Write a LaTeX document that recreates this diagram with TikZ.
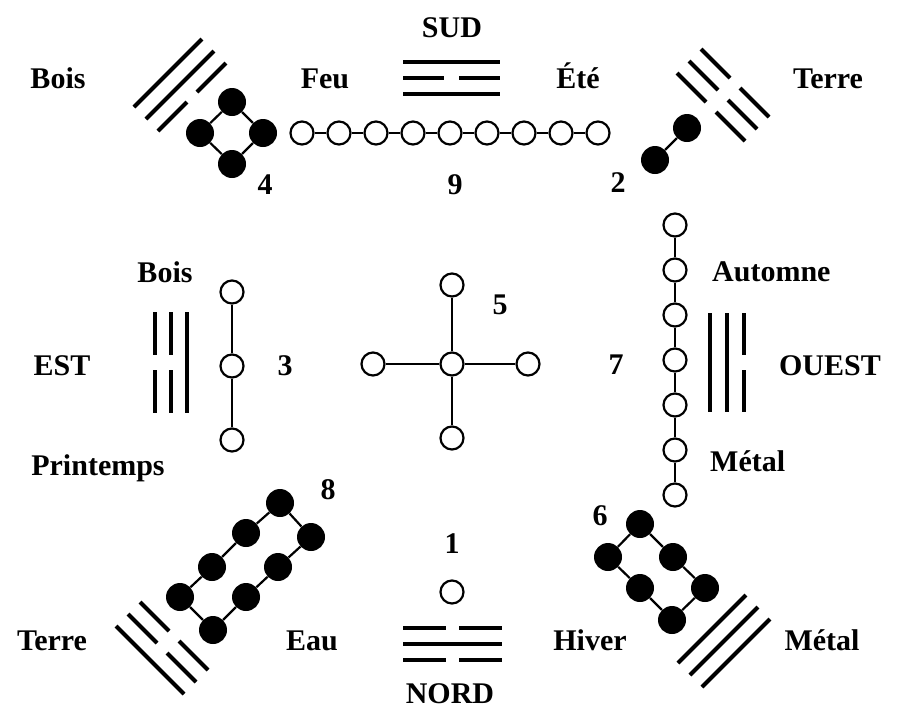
\documentclass[tikz,border=0pt]{standalone}
\usepackage{fontspec}
\setmainfont{Liberation Serif}
\usetikzlibrary{positioning}

\begin{document}
\begin{tikzpicture}[
    x=1pt, y=-1pt,
    lbl/.style={font=\fontsize{30}{34}\selectfont\bfseries, inner sep=0pt, anchor=base},
    wc/.style={draw, circle, fill=white, line width=2.2pt, minimum size=23pt, inner sep=0pt},
    bc/.style={circle, fill=black, minimum size=28pt, inner sep=0pt},
    lnk/.style={line width=2.2pt},
    yao/.style={line width=4pt}
  ]
  \useasboundingbox (0,0) rectangle (897,713);

  % labels
  \node[lbl] (sud) at (452,37) {SUD};
  \node[lbl] (bois1) at (58,88) {Bois};
  \node[lbl] (feu) at (325,88) {Feu};
  \node[lbl] (ete) at (578,88) {Été};
  \node[lbl] (terre1) at (828,88) {Terre};
  \node[lbl] (n4) at (265,194) {4};
  \node[lbl] (n9) at (455,194) {9};
  \node[lbl] (n2) at (618,192) {2};
  \node[lbl] (bois2) at (165,282) {Bois};
  \node[lbl] (est) at (62,375) {EST};
  \node[lbl] (n3) at (285,375) {3};
  \node[lbl] (print) at (98,475) {Printemps};
  \node[lbl] (n5) at (500,314) {5};
  \node[lbl] (n7) at (616,374) {7};
  \node[lbl, anchor=base west] (aut) at (712,281) {Automne};
  \node[lbl] (ouest) at (830,375) {OUEST};
  \node[lbl, anchor=base west] (met1) at (710,471) {Métal};
  \node[lbl] (n8) at (328,499) {8};
  \node[lbl] (n6) at (600,525) {6};
  \node[lbl] (n1) at (452,553) {1};
  \node[lbl] (terre2) at (52,650) {Terre};
  \node[lbl] (eau) at (312,650) {Eau};
  \node[lbl] (hiver) at (590,650) {Hiver};
  \node[lbl] (met2) at (822,650) {Métal};
  \node[lbl] (nord) at (450,703) {NORD};

  % trigrams
  \draw[yao] (403,62) -- (500,62);
  \draw[yao] (403,78) -- (444,78) (459,78) -- (500,78);
  \draw[yao] (403,94) -- (500,94);

  \draw[yao] (403,628) -- (446,628) (459,628) -- (502,628);
  \draw[yao] (403,644) -- (502,644);
  \draw[yao] (403,660) -- (446,660) (459,660) -- (502,660);

  \draw[yao] (155,312) -- (155,355) (155,370) -- (155,413);
  \draw[yao] (171,312) -- (171,355) (171,370) -- (171,413);
  \draw[yao] (187,312) -- (187,413);

  \draw[yao] (710,313) -- (710,412);
  \draw[yao] (727,313) -- (727,412);
  \draw[yao] (744,313) -- (744,355) (744,370) -- (744,412);

  \draw[yao] (134,107) -- (202,39);
  \draw[yao] (146,119) -- (214,51);
  \draw[yao] (158,131) -- (187,102) (197,92) -- (226,63);

  \draw[yao] (677,73) -- (706,102) (716,112) -- (745,141);
  \draw[yao] (689,61) -- (718,90) (728,100) -- (757,129);
  \draw[yao] (701,49) -- (730,78) (740,88) -- (769,117);

  \draw[yao] (116,626) -- (184,694);
  \draw[yao] (128,614) -- (157,643) (167,653) -- (196,682);
  \draw[yao] (140,602) -- (169,631) (179,641) -- (208,670);

  \draw[yao] (678,663) -- (746,595);
  \draw[yao] (690,675) -- (758,607);
  \draw[yao] (702,687) -- (770,619);

  % white dots
  \foreach \i in {1,...,9}
    \node[wc] (s\i) at ({302+37*(\i-1)},133) {};
  \foreach \i [count=\j from 2] in {1,...,8}
    \draw[lnk] (s\i) -- (s\j);

  \foreach \i in {1,2,3}
    \node[wc] (e\i) at (232,{292+74*(\i-1)}) {};
  \draw[lnk] (e1) -- (e2);
  \draw[lnk] (e2) -- (e3);

  \foreach \i in {1,...,7}
    \node[wc] (w\i) at (675,{225+45*(\i-1)}) {};
  \foreach \i [count=\j from 2] in {1,...,6}
    \draw[lnk] (w\i) -- (w\j);

  \node[wc] (c) at (452,364) {};
  \node[wc] (ct) at (452,285) {};
  \node[wc] (cb) at (452,438) {};
  \node[wc] (cl) at (373,364) {};
  \node[wc] (cr) at (528,364) {};
  \foreach \k in {ct,cb,cl,cr}
    \draw[lnk] (c) -- (\k);

  \node[wc] (one) at (452,592) {};

  % black dots
  \node[bc] (f1) at (232,102) {};
  \node[bc] (f2) at (200,133) {};
  \node[bc] (f3) at (263,133) {};
  \node[bc] (f4) at (232,164) {};
  \draw[lnk] (f1) -- (f2) -- (f4) -- (f3) -- (f1);

  \node[bc] (t1) at (687,128) {};
  \node[bc] (t2) at (655,160) {};
  \draw[lnk] (t1) -- (t2);

  \node[bc] (g1) at (280,503) {};
  \node[bc] (g2) at (311,537) {};
  \node[bc] (g3) at (278,567) {};
  \node[bc] (g4) at (246,597) {};
  \node[bc] (g5) at (213,630) {};
  \node[bc] (g6) at (180,597) {};
  \node[bc] (g7) at (212,567) {};
  \node[bc] (g8) at (246,533) {};
  \draw[lnk] (g1) -- (g2) -- (g3) -- (g4) -- (g5) -- (g6) -- (g7) -- (g8) -- (g1);

  \node[bc] (x1) at (640,524) {};
  \node[bc] (x2) at (608,557) {};
  \node[bc] (x3) at (673,557) {};
  \node[bc] (x4) at (640,588) {};
  \node[bc] (x5) at (705,588) {};
  \node[bc] (x6) at (672,620) {};
  \draw[lnk] (x2) -- (x1) -- (x3) -- (x5) -- (x6) -- (x4) -- (x2);
\end{tikzpicture}
\end{document}
